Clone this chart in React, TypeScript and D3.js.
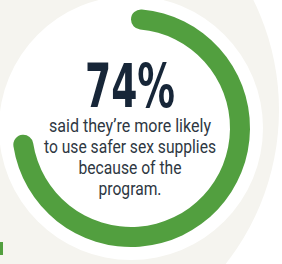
import React from "react";
import * as d3 from "d3";

const percentValues = [74];
const headlineLabels = ["74%"];
const captionLines = [
  "said they\u2019re more likely",
  "to use safer sex supplies",
  "because of the",
  "program.",
];
const captionWidths = [162, 172, 103, 63];

const W = 282;
const H = 264;
const cx = 131;
const cy = 128;

export default function App() {
  const angle = d3.scaleLinear().domain([0, 100]).range([0, 2 * Math.PI]);
  const arcGen = d3
    .arc<any>()
    .innerRadius(99)
    .outerRadius(119)
    .cornerRadius(10)
    .startAngle(0)
    .endAngle((d: number) => angle(d));
  const lineY = d3.scaleLinear().domain([0, 1]).range([131.5, 152.8]);
  return (
    <svg
      width={W}
      height={H}
      style={{ position: "absolute", left: 0, top: 0, display: "block" }}
    >
      <rect x={0} y={0} width={W} height={H} fill="#ffffff" />
      <circle cx={30} cy={110} r={249} fill="#f5f4ef" />
      <circle cx={cx} cy={cy} r={132} fill="#ffffff" />
      <rect x={0} y={242} width={3} height={13} fill="#529f3f" />
      <g transform={`translate(${cx},${cy})`}>
        {percentValues.map((v, i) => (
          <path key={i} d={arcGen(v) as string} fill="#529f3f" />
        ))}
      </g>
      {headlineLabels.map((t, i) => (
        <text
          key={i}
          x={130}
          y={106.5}
          textAnchor="middle"
          fontFamily="'Liberation Sans Narrow', 'DejaVu Sans Condensed', sans-serif"
          fontWeight="bold"
          fontSize={61}
          fill="#172638"
          textLength={90}
          lengthAdjust="spacingAndGlyphs"
        >
          {t}
        </text>
      ))}
      {captionLines.map((t, i) => (
        <text
          key={i}
          x={130}
          y={lineY(i)}
          textAnchor="middle"
          fontFamily="'Liberation Sans Narrow', 'Roboto', sans-serif"
          fontSize={19}
          fill="#2e3742"
          textLength={captionWidths[i]}
          lengthAdjust="spacingAndGlyphs"
        >
          {t}
        </text>
      ))}
    </svg>
  );
}
